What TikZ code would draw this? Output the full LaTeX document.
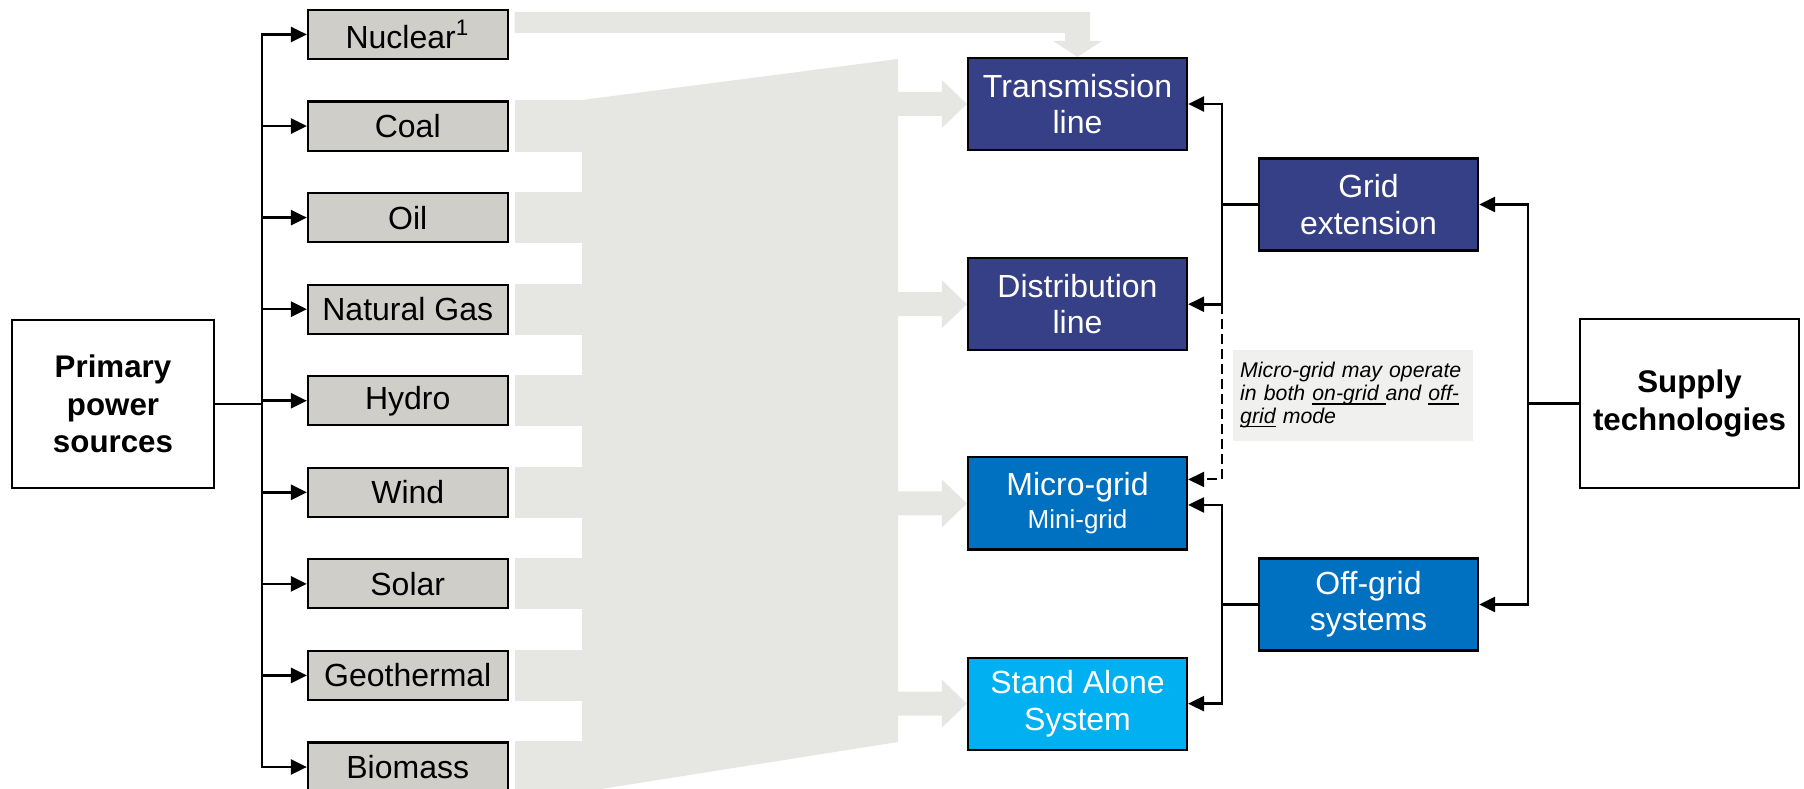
\documentclass[tikz,border=0pt]{standalone}
\usepackage{fontspec}
\setmainfont{Liberation Sans}
\usepackage{xcolor}
\usetikzlibrary{positioning,arrows.meta,calc,backgrounds}

\definecolor{srcgray}{RGB}{208,206,200}
\definecolor{flowgray}{RGB}{230,230,226}
\definecolor{notegray}{RGB}{240,240,238}
\definecolor{navy}{RGB}{54,64,134}
\definecolor{midblue}{RGB}{0,112,192}
\definecolor{skyblue}{RGB}{0,176,240}

% underline at a fixed depth below the baseline
\newcommand{\undl}[1]{\leavevmode\setbox0\hbox{#1}\rlap{\rule[-1.1pt]{\wd0}{0.35pt}}\box0\relax}

\begin{document}
\begin{tikzpicture}[
  x=0.01cm, y=-0.01cm,
  src/.style={draw, line width=0.6pt, fill=srcgray, minimum width=1.995cm, minimum height=0.49cm,
              inner sep=0pt, font=\fontsize{9.1}{10.3}\selectfont},
  tech/.style={draw, line width=0.6pt, minimum width=2.19cm, minimum height=0.92cm, inner sep=0pt,
               align=center, text=white, font=\fontsize{9.1}{10.3}\selectfont},
  side/.style={draw, line width=0.6pt, fill=white, minimum height=1.68cm, inner sep=0pt,
               align=center, font=\fontsize{8.9}{10.7}\selectfont\bfseries},
  note/.style={fill=notegray, text width=2.25cm, inner xsep=0.075cm, minimum height=0.91cm,
               align=left, font=\fontsize{6.05}{6.5}\selectfont\itshape},
  flow/.style={fill=flowgray},
  conn/.style={line width=0.75pt},
  arrow/.style={conn, -{Triangle[length=0.16cm, width=0.15cm]}}
]
  \useasboundingbox (0,0) rectangle (1804,789);

  % sources
  \node[side, minimum width=2.015cm] (prim) at (113,404) {Primary\\power\\sources};
  \node[src] (nuc) at (407.75,34.5) {Nuclear\textsuperscript{1}};
  \node[src, below=0.404cm of nuc] (coal) {Coal};
  \node[src, below=0.404cm of coal] (oil) {Oil};
  \node[src, below=0.404cm of oil] (gas) {Natural Gas};
  \node[src, below=0.404cm of gas] (hydro) {Hydro};
  \node[src, below=0.404cm of hydro] (wind) {Wind};
  \node[src, below=0.404cm of wind] (solar) {Solar};
  \node[src, below=0.404cm of solar] (geo) {Geothermal};
  \node[src, below=0.404cm of geo] (bio) {Biomass};

  % supply technologies
  \node[tech, fill=navy] (trans) at (1077.5,104) {Transmission\\line};
  \node[tech, fill=navy, below=1.06cm of trans] (dist) {Distribution\\line};
  \node[tech, fill=midblue, below=1.05cm of dist] (micro) {Micro-grid\\[-1pt]{\fontsize{7.4}{8}\selectfont Mini-grid}};
  \node[tech, fill=skyblue, below=1.06cm of micro] (stand) {Stand Alone\\System};
  \node[tech, fill=navy] (gext) at (1368.5,204.5) {Grid\\extension};
  \node[tech, fill=midblue] (offg) at (1368.5,604.5) {Off-grid\\systems};
  \node[side, minimum width=2.19cm, minimum height=1.69cm] (supp) at (1689.5,403.5) {Supply\\technologies};
  \node[note, anchor=north west] (mnote) at (1232,349)
    {Micro-grid may operate\\in both \undl{on-grid }and \undl{off-}\\\undl{grid} mode};

  % left tree
  \draw[conn] (prim.east) -- ++(47,0) coordinate (ltrunk);
  \draw[arrow] (ltrunk) |- (nuc.west);
  \draw[arrow] (ltrunk) |- (bio.west);
  \foreach \n in {coal,oil,gas,hydro,wind,solar,geo}
    \draw[arrow] (ltrunk |- \n.west) -- (\n.west);

  % right tree
  \draw[conn] (supp.west) -- ++(-51,0) coordinate (rtrunk);
  \draw[arrow] (rtrunk) |- (gext.east);
  \draw[arrow] (rtrunk) |- (offg.east);

  \draw[conn] (gext.west) -- ++(-36,0) coordinate (gtrunk);
  \draw[arrow] (gtrunk) |- (trans.east);
  \draw[arrow] (gtrunk) |- (dist.east);
  \draw[arrow, line width=0.6pt, dash pattern=on 0.1cm off 0.05cm]
    (gtrunk |- dist.east) |- ($(micro.east)+(0,-24)$);

  \draw[conn] (offg.west) -- ++(-36,0) coordinate (otrunk);
  \draw[arrow] (otrunk) |- ($(micro.east)+(0,1.5)$);
  \draw[arrow] (otrunk) |- (stand.east);

  % grey flows
  \begin{scope}[on background layer]
    \fill[flow] (582,100) -- (898,59) -- (898,742) -- (582,792) -- cycle;
    \foreach \n in {coal,oil,gas,hydro,wind,solar,geo,bio}
      \fill[flow] ($(\n.north east)+(6,0)$) rectangle ($(\n.south east)+(80,0)$);
    \fill[flow] ($(nuc.east)+(6,-22.5)$) -- (1090,12) -- (1090,41) -- (1102,41)
      -- (trans.north) -- (1053,41) -- (1065,41) -- (1065,33) -- ($(nuc.east)+(6,-1.5)$) -- cycle;
    \foreach \b in {trans,dist,micro,stand}
      \fill[flow] ($(\b.west)+(-73,-12)$) -- ++(48,0) -- ++(0,-12) -- (\b.west)
        -- ++(-25,24) -- ++(0,-12) -- ++(-48,0) -- cycle;
  \end{scope}
\end{tikzpicture}
\end{document}
